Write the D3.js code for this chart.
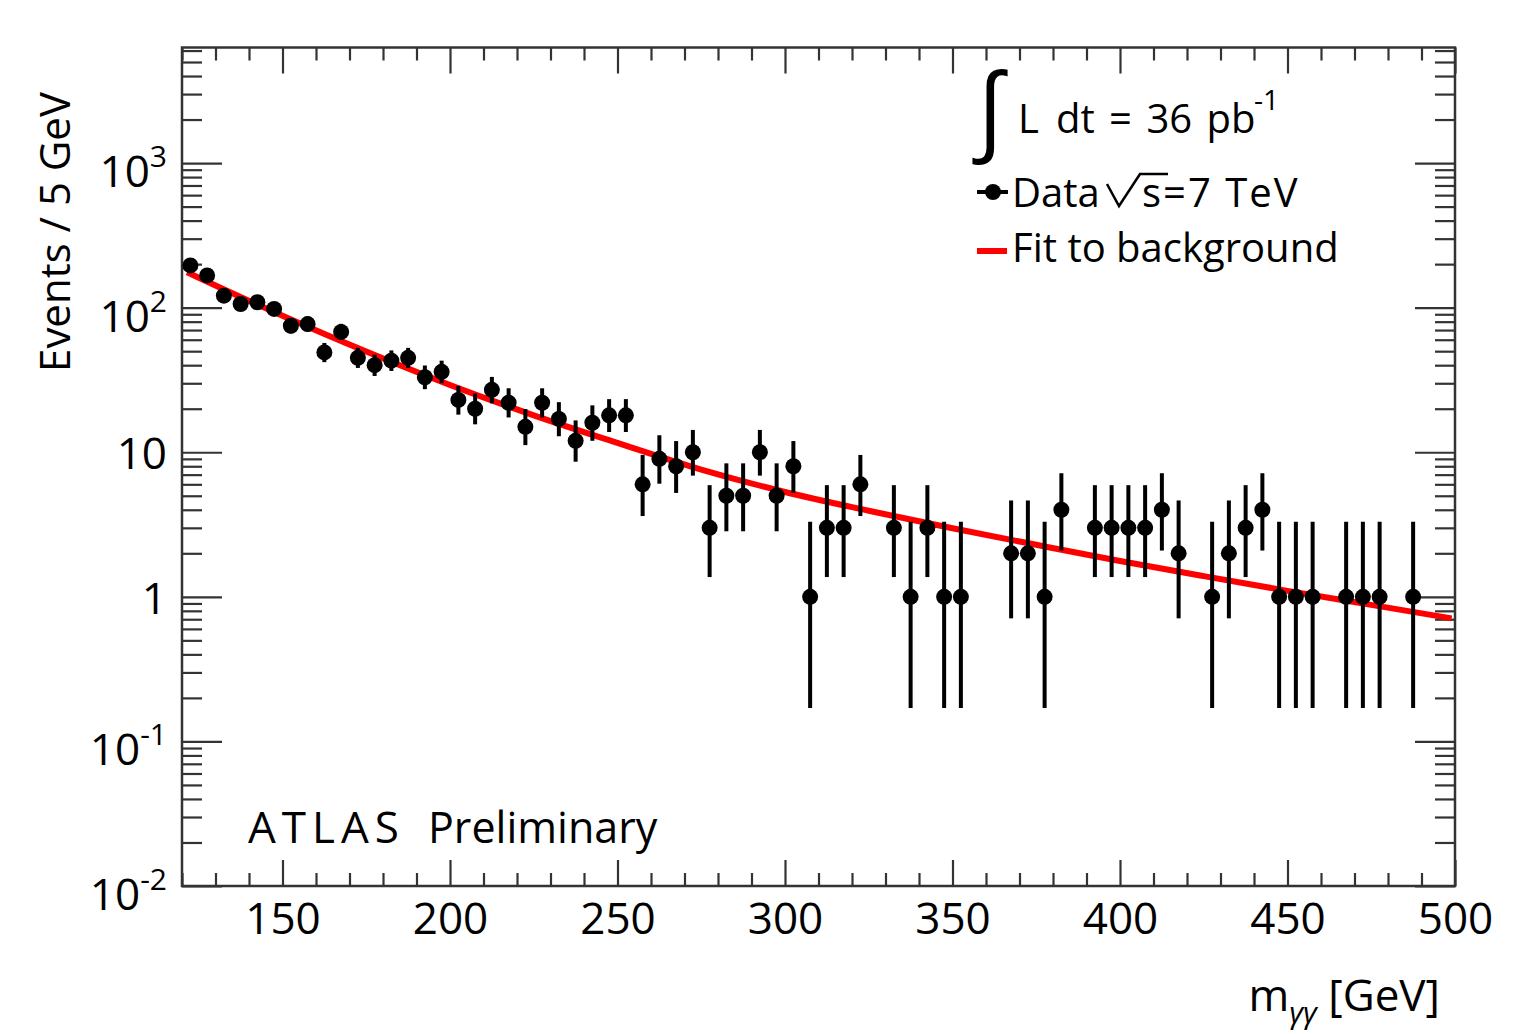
<!DOCTYPE html>
<html>
<head>
<meta charset="utf-8">
<script src="https://cdn.jsdelivr.net/npm/d3@7"></script>
<style>
    body { margin: 0; background: #fff; }
    text { font-family: "Open Sans", "DejaVu Sans", sans-serif; fill: #000; }
</style>
</head>
<body>
<div class="chart"></div>
<script>
// diphoton mass bins (GeV) with non-zero counts, 5 GeV wide
const massBins = [122.5, 127.5, 132.5, 137.5, 142.5, 147.5, 152.5, 157.5, 162.5, 167.5,
    172.5, 177.5, 182.5, 187.5, 192.5, 197.5, 202.5, 207.5, 212.5, 217.5,
    222.5, 227.5, 232.5, 237.5, 242.5, 247.5, 252.5, 257.5, 262.5, 267.5,
    272.5, 277.5, 282.5, 287.5, 292.5, 297.5, 302.5, 307.5, 312.5, 317.5,
    322.5, 332.5, 337.5, 342.5, 347.5, 352.5, 367.5, 372.5, 377.5, 382.5,
    392.5, 397.5, 402.5, 407.5, 412.5, 417.5, 427.5, 432.5, 437.5, 442.5,
    447.5, 452.5, 457.5, 467.5, 472.5, 477.5, 487.5];
const counts = [196, 167, 121, 106, 109, 98, 75, 77, 49, 68,
    45, 40, 43, 45, 33, 36, 23, 20, 27, 22,
    15, 22, 17, 12, 16, 18, 18, 6, 9, 8,
    10, 3, 5, 5, 10, 5, 8, 1, 3, 3,
    6, 3, 1, 3, 1, 1, 2, 2, 1, 4,
    3, 3, 3, 3, 4, 2, 1, 2, 3, 4,
    1, 1, 1, 1, 1, 1, 1];
const errLow = [182.0, 154.1, 110.0, 95.7, 98.6, 88.1, 66.4, 68.3, 42.0, 59.8,
    38.3, 33.7, 36.5, 38.3, 27.3, 30.0, 18.2, 15.6, 21.8, 17.4,
    11.2, 17.4, 12.9, 8.6, 12.0, 13.8, 13.8, 3.62, 6.06, 5.23,
    6.89, 1.37, 2.84, 2.84, 6.89, 2.84, 5.23, 0.17, 1.37, 1.37,
    3.62, 1.37, 0.17, 1.37, 0.17, 0.17, 0.71, 0.71, 0.17, 2.09,
    1.37, 1.37, 1.37, 1.37, 2.09, 0.71, 0.17, 0.71, 1.37, 2.09,
    0.17, 0.17, 0.17, 0.17, 0.17, 0.17, 0.17];
const errHigh = [211.0, 180.9, 133.0, 117.3, 120.5, 108.9, 84.7, 86.8, 57.0, 77.3,
    52.7, 47.3, 50.6, 52.7, 39.8, 43.0, 28.8, 25.5, 33.2, 27.7,
    19.9, 27.7, 22.2, 16.6, 21.1, 23.3, 23.3, 9.58, 13.11, 11.95,
    14.27, 5.92, 8.38, 8.38, 14.27, 8.38, 11.95, 3.30, 5.92, 5.92,
    9.58, 5.92, 3.30, 5.92, 3.30, 3.30, 4.64, 4.64, 3.30, 7.16,
    5.92, 5.92, 5.92, 5.92, 7.16, 4.64, 3.30, 4.64, 5.92, 7.16,
    3.30, 3.30, 3.30, 3.30, 3.30, 3.30, 3.30];

// background fit curve
const fitMass = [121.5, 125, 150, 175, 200, 225, 250, 275, 300, 325, 350, 375, 400, 425, 450, 475, 499];
const fitValues = [175.8, 161.1, 87.9, 49.7, 29.2, 18.0, 11.6, 7.59, 5.31, 3.94, 2.98, 2.29, 1.77, 1.39, 1.10, 0.88, 0.71];

// axis labels
const xTickLabels = [150, 200, 250, 300, 350, 400, 450, 500];
const yTickValues = [0.01, 0.1, 1, 10, 100, 1000];
const yTickBase = ["10", "10", "1", "10", "10", "10"];
const yTickExp = ["-2", "-1", "", "", "2", "3"];

const W = 1521, H = 1034;
const plot = { left: 182, right: 1455, top: 47.5, bottom: 886 };

const svg = d3.select(".chart").append("svg")
    .attr("width", W)
    .attr("height", H);

const x = d3.scaleLinear().domain([120, 500]).range([plot.left, plot.right]);
const y = d3.scaleLog().domain([0.01, 6300]).range([plot.bottom, plot.top]);

const minorX = x.ticks(38).filter(d => d % 50 !== 0);
const minorY = y.ticks().filter(d => !yTickValues.includes(d));

function styleTicks(g) {
    g.select(".domain").remove();
    g.selectAll(".tick line").attr("stroke", "#333").attr("stroke-width", 2.2);
}

// x ticks, bottom and top
svg.append("g")
    .attr("transform", `translate(0,${plot.bottom})`)
    .call(d3.axisBottom(x).tickValues(minorX).tickSize(-13).tickFormat(""))
    .call(styleTicks);
svg.append("g")
    .attr("transform", `translate(0,${plot.bottom})`)
    .call(d3.axisBottom(x).tickValues(xTickLabels).tickSize(-26).tickPadding(17).tickFormat(d3.format("d")))
    .call(styleTicks)
    .call(g => g.selectAll(".tick text").attr("font-size", 44).attr("font-family", "Open Sans").attr("fill", "#000"));
svg.append("g")
    .attr("transform", `translate(0,${plot.top})`)
    .call(d3.axisTop(x).tickValues(minorX).tickSize(-13).tickFormat(""))
    .call(styleTicks);
svg.append("g")
    .attr("transform", `translate(0,${plot.top})`)
    .call(d3.axisTop(x).tickValues(xTickLabels).tickSize(-26).tickFormat(""))
    .call(styleTicks);

// y ticks, left and right
svg.append("g")
    .attr("transform", `translate(${plot.left},0)`)
    .call(d3.axisLeft(y).tickValues(minorY).tickSize(-20).tickFormat(""))
    .call(styleTicks);
svg.append("g")
    .attr("transform", `translate(${plot.left},0)`)
    .call(d3.axisLeft(y).tickValues(yTickValues).tickSize(-40).tickFormat(""))
    .call(styleTicks);
svg.append("g")
    .attr("transform", `translate(${plot.right},0)`)
    .call(d3.axisRight(y).tickValues(minorY).tickSize(-20).tickFormat(""))
    .call(styleTicks);
svg.append("g")
    .attr("transform", `translate(${plot.right},0)`)
    .call(d3.axisRight(y).tickValues(yTickValues).tickSize(-40).tickFormat(""))
    .call(styleTicks);

// y tick labels with exponents
const yLab = svg.append("g").selectAll("text")
    .data(yTickValues)
    .enter().append("text")
    .attr("x", 167)
    .attr("y", (d, i) => y(d) + (yTickExp[i] ? 24 : 17))
    .attr("text-anchor", "end")
    .attr("font-size", 44);
yLab.append("tspan").text((d, i) => yTickBase[i]);
yLab.append("tspan")
    .attr("font-size", 30)
    .attr("dy", -20)
    .text((d, i) => yTickExp[i]);

// frame
svg.append("rect")
    .attr("x", plot.left)
    .attr("y", plot.top)
    .attr("width", plot.right - plot.left)
    .attr("height", plot.bottom - plot.top)
    .attr("fill", "none")
    .attr("stroke", "#333")
    .attr("stroke-width", 2.5);

// fit line
const fitLine = d3.line()
    .x((d, i) => x(fitMass[i]))
    .y(d => y(d))
    .curve(d3.curveMonotoneX);
svg.append("path")
    .datum(fitValues)
    .attr("d", fitLine)
    .attr("fill", "none")
    .attr("stroke", "#ff0000")
    .attr("stroke-width", 6);

// data points
const pts = svg.append("g").selectAll("g")
    .data(counts)
    .enter().append("g");
pts.append("line")
    .attr("x1", (d, i) => x(massBins[i]))
    .attr("x2", (d, i) => x(massBins[i]))
    .attr("y1", (d, i) => y(errLow[i]))
    .attr("y2", (d, i) => y(errHigh[i]))
    .attr("stroke", "#000")
    .attr("stroke-width", 4);
pts.append("circle")
    .attr("cx", (d, i) => x(massBins[i]))
    .attr("cy", d => y(d))
    .attr("r", 8)
    .attr("fill", "#000");

// axis titles
svg.append("text")
    .attr("transform", "rotate(-90)")
    .attr("x", -92)
    .attr("y", 70)
    .attr("text-anchor", "end")
    .attr("font-size", 42)
    .text("Events / 5 GeV");

const xTitle = svg.append("text")
    .attr("x", 1440)
    .attr("y", 1011)
    .attr("text-anchor", "end")
    .attr("font-size", 44);
xTitle.append("tspan").text("m");
xTitle.append("tspan").attr("font-size", 30).attr("dy", 12).attr("font-style", "italic").text("γγ");
xTitle.append("tspan").attr("dy", -12).text(" [GeV]");

// ATLAS label
svg.append("text")
    .attr("x", 248)
    .attr("y", 843)
    .attr("font-size", 44)
    .attr("letter-spacing", 6)
    .text("ATLAS");
svg.append("text")
    .attr("x", 428)
    .attr("y", 843)
    .attr("font-size", 43)
    .text("Preliminary");

// legend
svg.append("text")
    .attr("x", 972)
    .attr("y", 142)
    .attr("font-family", "DejaVu Serif")
    .attr("font-size", 96)
    .text("∫");
svg.append("text").attr("x", 1018).attr("y", 133).attr("font-size", 40).text("L");
svg.append("text").attr("x", 1056).attr("y", 133).attr("font-size", 40)
    .attr("word-spacing", 4).text("dt = 36 pb");
svg.append("text").attr("x", 1254).attr("y", 110).attr("font-size", 28).text("-1");

svg.append("line")
    .attr("x1", 977).attr("x2", 1008)
    .attr("y1", 192).attr("y2", 192)
    .attr("stroke", "#000").attr("stroke-width", 4);
svg.append("circle").attr("cx", 993).attr("cy", 192).attr("r", 8).attr("fill", "#000");
svg.append("text").attr("x", 1012).attr("y", 207).attr("font-size", 40).text("Data");
// square root sign with overline
svg.append("path")
    .attr("d", "M1107,184 L1119,206 L1140,174 L1168,174")
    .attr("fill", "none")
    .attr("stroke", "#000")
    .attr("stroke-width", 2.5);
svg.append("text").attr("x", 1142).attr("y", 207).attr("font-size", 40)
    .attr("letter-spacing", 2).text("s=7 TeV");

svg.append("line")
    .attr("x1", 977).attr("x2", 1007)
    .attr("y1", 251).attr("y2", 251)
    .attr("stroke", "#ff0000").attr("stroke-width", 6);
svg.append("text").attr("x", 1012).attr("y", 262).attr("font-size", 40).text("Fit to background");
</script>
</body>
</html>
